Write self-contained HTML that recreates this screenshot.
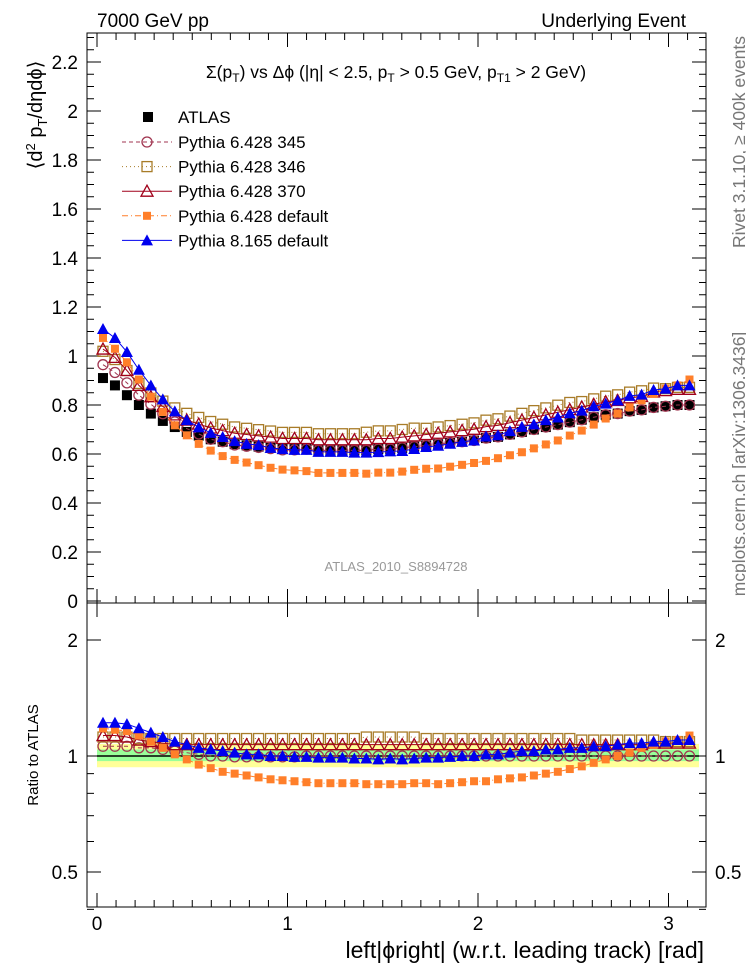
<!DOCTYPE html>
<html><head><meta charset="utf-8"><style>
body{margin:0;background:#fff;}
svg{display:block;font-family:"Liberation Sans","DejaVu Sans",sans-serif;}
</style></head><body>
<svg id="chart" width="746" height="972" xmlns="http://www.w3.org/2000/svg">
<text x="97" y="27" font-size="19">7000 GeV pp</text>
<text x="686" y="27" font-size="19" text-anchor="end">Underlying Event</text>
<rect x="87" y="33" width="619" height="570" fill="none" stroke="#000"/>
<rect x="87" y="603" width="619" height="304" fill="none" stroke="#000"/>
<g id="bands"></g>
<g id="ticks"></g>
<g id="series"></g>
<text x="396" y="78" font-size="17.5" text-anchor="middle">Σ(p<tspan font-size="12" dy="4">T</tspan><tspan dy="-4">) vs Δϕ (|η| &lt; 2.5, p</tspan><tspan font-size="12" dy="4">T</tspan><tspan dy="-4"> &gt; 0.5 GeV, p</tspan><tspan font-size="12" dy="4">T1</tspan><tspan dy="-4"> &gt; 2 GeV)</tspan></text>
<text x="396" y="571" font-size="13" fill="#999" text-anchor="middle">ATLAS_2010_S8894728</text>
<text transform="translate(42,115) rotate(-90)" font-size="20" text-anchor="middle">⟨d<tspan font-size="13" dy="-7">2</tspan><tspan dy="7"> p</tspan><tspan font-size="13" dy="5">T</tspan><tspan dy="-5">/dηdϕ⟩</tspan></text>
<text transform="translate(38,755) rotate(-90)" font-size="15" text-anchor="middle">Ratio to ATLAS</text>
<text x="704" y="958" font-size="23" text-anchor="end">left|ϕright| (w.r.t. leading track) [rad]</text>
<text transform="translate(745,142) rotate(-90)" font-size="17.5" fill="#777" text-anchor="middle">Rivet 3.1.10, ≥ 400k events</text>
<text transform="translate(745,464) rotate(-90)" font-size="17.5" fill="#777" text-anchor="middle">mcplots.cern.ch [arXiv:1306.3436]</text>
<g id="legend"></g>
</svg>
<script>
const NS="http://www.w3.org/2000/svg";
const atlas=[0.91,0.88,0.84,0.80,0.765,0.735,0.71,0.69,0.675,0.66,0.65,0.64,0.635,0.63,0.625,0.62,0.62,0.62,0.615,0.615,0.615,0.615,0.615,0.62,0.62,0.625,0.63,0.635,0.64,0.645,0.65,0.655,0.665,0.67,0.68,0.69,0.70,0.71,0.72,0.73,0.74,0.75,0.76,0.765,0.775,0.78,0.79,0.795,0.80,0.80];
const r345=[1.06,1.06,1.06,1.05,1.05,1.04,1.03,1.02,1.01,1.0,1.0,0.995,0.995,0.995,0.995,0.995,0.995,1.0,1.0,1.0,1.0,1.0,1.0,1.0,1.0,1.0,1.0,1.0,1.0,1.0,1.0,1.0,1.0,1.0,1.0,1.0,1.0,1.0,1.0,1.0,1.0,1.0,1.0,1.0,1.0,1.0,1.0,1.0,1.0,1.0];
const r346=[1.12,1.12,1.12,1.11,1.11,1.11,1.11,1.11,1.11,1.11,1.11,1.11,1.11,1.11,1.11,1.11,1.11,1.11,1.11,1.11,1.11,1.11,1.12,1.12,1.12,1.12,1.12,1.11,1.11,1.11,1.11,1.11,1.11,1.11,1.11,1.11,1.11,1.11,1.11,1.11,1.10,1.10,1.10,1.10,1.10,1.10,1.10,1.09,1.09,1.09];
const r370=[1.13,1.13,1.12,1.10,1.09,1.08,1.07,1.07,1.07,1.07,1.07,1.07,1.07,1.07,1.07,1.07,1.07,1.07,1.07,1.07,1.07,1.07,1.07,1.07,1.07,1.07,1.07,1.07,1.07,1.07,1.07,1.07,1.07,1.07,1.07,1.07,1.07,1.07,1.07,1.07,1.07,1.07,1.07,1.07,1.07,1.07,1.08,1.08,1.08,1.08];
const rdef=[1.18,1.17,1.16,1.13,1.09,1.05,1.01,0.98,0.95,0.93,0.91,0.90,0.89,0.88,0.87,0.865,0.86,0.855,0.85,0.85,0.85,0.85,0.845,0.845,0.845,0.845,0.85,0.85,0.845,0.85,0.855,0.86,0.86,0.87,0.875,0.88,0.89,0.90,0.91,0.925,0.94,0.96,0.98,1.0,1.02,1.05,1.07,1.09,1.10,1.13];
const rp8=[1.22,1.22,1.21,1.18,1.15,1.12,1.09,1.07,1.05,1.04,1.03,1.02,1.01,1.01,1.0,1.0,0.995,0.995,0.99,0.99,0.99,0.985,0.985,0.98,0.985,0.98,0.985,0.99,0.99,0.995,1.0,1.0,1.01,1.01,1.02,1.03,1.03,1.04,1.04,1.05,1.05,1.06,1.06,1.07,1.08,1.08,1.09,1.09,1.10,1.10];
const yTicks=[0,0.2,0.4,0.6,0.8,1,1.2,1.4,1.6,1.8,2,2.2];
const yTickLabels=["0","0.2","0.4","0.6","0.8","1","1.2","1.4","1.6","1.8","2","2.2"];
const rTicks=[0.5,1,2];
const rTickLabels=["0.5","1","2"];
const xTicks=[0,1,2,3];
const xTickLabels=["0","1","2","3"];

const X=v=>97+v*190.5;
const Y=v=>601-v*245;
const R=v=>756-116*Math.log2(v);
const xs=atlas.map((_,i)=>(i+0.5)*Math.PI/50);

function el(tag,attrs,parent){const e=document.createElementNS(NS,tag);for(const k in attrs)e.setAttribute(k,attrs[k]);parent.appendChild(e);return e;}
const ticks=document.getElementById('ticks');
for(let v=0;v<=2.3;v+=0.05){const maj=Math.abs(v/0.2-Math.round(v/0.2))<1e-6;const l=maj?14:7;
 el('line',{x1:87,x2:87+l,y1:Y(v),y2:Y(v),stroke:'#000'},ticks);el('line',{x1:706,x2:706-l,y1:Y(v),y2:Y(v),stroke:'#000'},ticks);}
yTicks.forEach((v,i)=>{const t=el('text',{x:78,y:Y(v)+7,'font-size':19,'text-anchor':'end'},ticks);t.textContent=yTickLabels[i];
 
 });
[0.4,0.5,0.6,0.7,0.8,0.9,1,2].forEach(v=>{const maj=rTicks.includes(v);const l=maj?14:7;
 el('line',{x1:87,x2:87+l,y1:R(v),y2:R(v),stroke:'#000'},ticks);el('line',{x1:706,x2:706-l,y1:R(v),y2:R(v),stroke:'#000'},ticks);});
rTicks.forEach((v,i)=>{[[78,'end'],[715,'start']].forEach(([x,a])=>{const t=el('text',{x:x,y:R(v)+7,'font-size':19,'text-anchor':a},ticks);t.textContent=rTickLabels[i];
 
 });});
for(let k=0;k<=31;k++){const v=k/10;if(X(v)>706)break;const maj=k%10==0;const l=maj?14:7;
 [[603,1],[33,-1],[907,1]].forEach(([y0,d])=>{el('line',{x1:X(v),x2:X(v),y1:y0,y2:y0-d*l,stroke:'#000'},ticks);});
 if(maj) el('line',{x1:X(v),x2:X(v),y1:603,y2:603+l,stroke:'#000'},ticks);}
xTicks.forEach((v,i)=>{const t=el('text',{x:X(v),y:930,'font-size':19,'text-anchor':'middle'},ticks);t.textContent=xTickLabels[i];
 
 });
const bands=document.getElementById('bands');
const yb=el('rect',{x:97,y:R(1.075),width:X(3.16)-97,height:R(0.935)-R(1.075),fill:'#ffff99'},bands);


const gb=el('rect',{x:97,y:R(1.04),width:X(3.16)-97,height:R(0.97)-R(1.04),fill:'#99ff99'},bands);


el('line',{x1:97,x2:X(3.16),y1:R(1),y2:R(1),stroke:'#000','stroke-width':1.5},bands);

const series=document.getElementById('series');
function marker(g,type,col,x,y){
 if(type==='sqF') return el('rect',{x:x-5,y:y-5,width:10,height:10,fill:col},g);
 if(type==='sqO') return el('rect',{x:x-5,y:y-5,width:10,height:10,fill:'none',stroke:col,'stroke-width':1.3},g);
 if(type==='sqS') return el('rect',{x:x-4,y:y-4,width:8,height:8,fill:col},g);
 if(type==='ciO') return el('circle',{cx:x,cy:y,r:5,fill:'none',stroke:col,'stroke-width':1.3},g);
 if(type==='trO') return el('polygon',{points:`${x},${y-6} ${x-6},${y+5} ${x+6},${y+5}`,fill:'none',stroke:col,'stroke-width':1.3},g);
 if(type==='trF') return el('polygon',{points:`${x},${y-6} ${x-6},${y+5} ${x+6},${y+5}`,fill:col},g);
}
const models=[
 {name:'pythia-6428-345',r:r345,col:'#a03550',m:'ciO',dash:'4,3',label:'Pythia 6.428 345'},
 {name:'pythia-6428-346',r:r346,col:'#a87c28',m:'sqO',dash:'1,3',label:'Pythia 6.428 346'},
 {name:'pythia-6428-370',r:r370,col:'#a0001a',m:'trO',dash:'',label:'Pythia 6.428 370'},
 {name:'pythia-6428-default',r:rdef,col:'#ff7f2a',m:'sqS',dash:'6,3,1,3',label:'Pythia 6.428 default'},
 {name:'pythia-8165-default',r:rp8,col:'#0000ee',m:'trF',dash:'',label:'Pythia 8.165 default'}];
const ga=el('g',{},series);


atlas.forEach((v,i)=>{const m=marker(ga,'sqF','#000',X(xs[i]),Y(v));
 
 });
models.forEach(md=>{
 const g=el('g',{},series);
 
 
 const main=md.r.map((r,i)=>r*atlas[i]);
 el('polyline',{points:main.map((v,i)=>X(xs[i])+','+Y(v)).join(' '),fill:'none',stroke:md.col,'stroke-width':1,'stroke-dasharray':md.dash},g);
 el('polyline',{points:md.r.map((v,i)=>X(xs[i])+','+R(v)).join(' '),fill:'none',stroke:md.col,'stroke-width':1,'stroke-dasharray':md.dash},g);
 main.forEach((v,i)=>{const m=marker(g,md.m,md.col,X(xs[i]),Y(v));
  
  });
 md.r.forEach((v,i)=>{const m=marker(g,md.m,md.col,X(xs[i]),R(v));
  
  });
});
const lg=document.getElementById('legend');


const e0=el('g',{},lg);


marker(e0,'sqF','#000',148,117);
el('text',{x:178,y:123,'font-size':17},e0).textContent='ATLAS';
models.forEach((md,i)=>{const y=142+i*24.6;
 const e=el('g',{},lg);
 
 
 el('line',{x1:122,x2:172,y1:y,y2:y,stroke:md.col,'stroke-dasharray':md.dash},e);
 marker(e,md.m,md.col,147,y);
 el('text',{x:178,y:y+6,'font-size':17},e).textContent=md.label;});
</script>
</body></html>
